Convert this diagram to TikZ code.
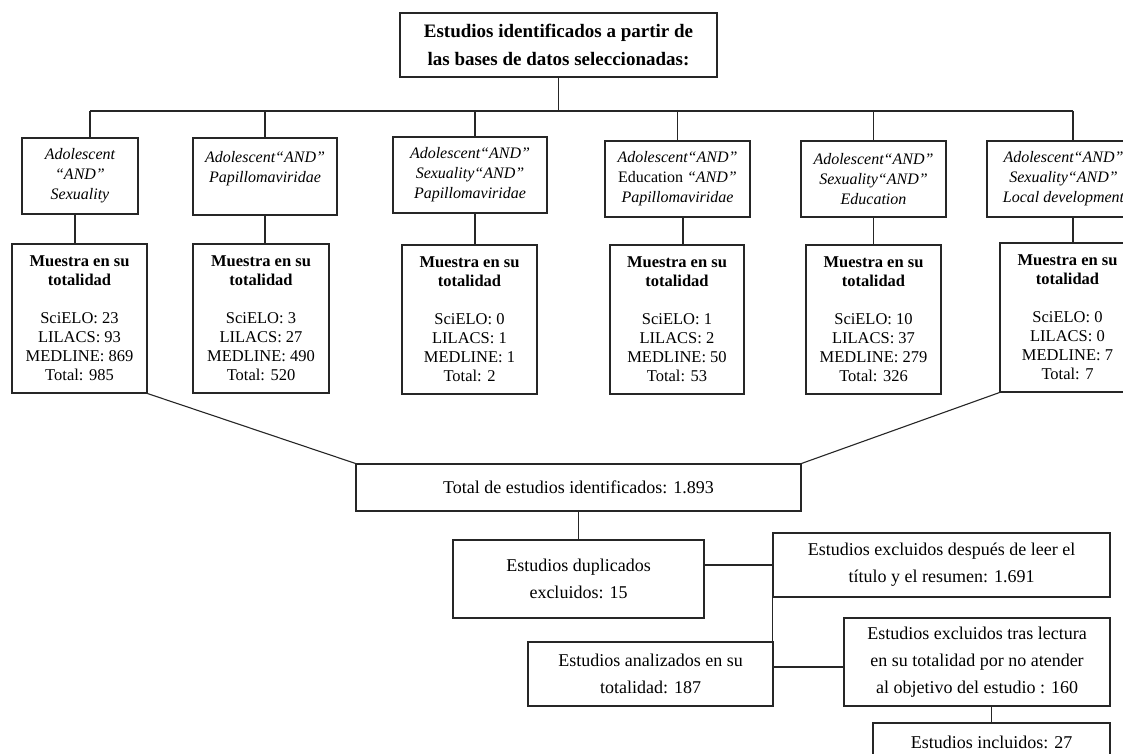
\documentclass[tikz,border=0pt]{standalone}
\usepackage{fontspec}
\setmainfont{Liberation Serif}
\begin{document}
\begin{tikzpicture}[x=1pt,y=-1pt,
  box/.style={draw=black!85, line width=1.1pt, inner sep=0pt, align=center, fill=white},
  ln/.style={draw=black!85, line width=1.1pt},
  topf/.style={font=\fontsize{19}{28}\selectfont\bfseries},
  qf/.style={font=\fontsize{16}{20}\selectfont\itshape},
  sf/.style={font=\fontsize{16.5}{19}\selectfont},
  btf/.style={font=\fontsize{18}{27}\selectfont}]
\fill[white] (0,0) rectangle (1123,754);
\useasboundingbox (0,0) rectangle (1123,754);

% top
\node[box, topf, minimum width=317pt, minimum height=64pt] (top) at (558.5,45)
  {Estudios identificados a partir de\\las bases de datos seleccionadas:};

% query boxes
\node[box, qf, minimum width=116pt, minimum height=76pt] (q1) at (80,176)
  {Adolescent\\“AND”\\Sexuality};
\node[box, qf, minimum width=144pt, minimum height=77pt] (q2) at (265,176.5)
  {Adolescent“AND”\\Papillomaviridae\\\mbox{}};
\node[box, qf, minimum width=154pt, minimum height=76pt] (q3) at (470,175)
  {Adolescent“AND”\\Sexuality“AND”\\Papillomaviridae};
\node[box, qf, minimum width=145pt, minimum height=76pt] (q4) at (677.5,179)
  {Adolescent“AND”\\\textup{Education} “AND”\\Papillomaviridae};
\node[box, qf, minimum width=145pt, minimum height=76pt] (q5) at (873.5,179)
  {Adolescent“AND”\\Sexuality“AND”\\Education};
\node[box, qf, minimum width=153pt, minimum height=76pt] (q6) at (1063.5,179)
  {Adolescent“AND”\\Sexuality“AND”\\Local development};

% sample boxes
\node[box, sf, minimum width=135pt, minimum height=149pt] (s1) at (79.5,318.5)
  {\textbf{Muestra en su}\\\textbf{totalidad}\\~\\SciELO: 23\\LILACS: 93\\MEDLINE: 869\\Total: 985};
\node[box, sf, minimum width=136pt, minimum height=149pt] (s2) at (261,318.5)
  {\textbf{Muestra en su}\\\textbf{totalidad}\\~\\SciELO: 3\\LILACS: 27\\MEDLINE: 490\\Total: 520};
\node[box, sf, minimum width=135pt, minimum height=149pt] (s3) at (469.5,319.5)
  {\textbf{Muestra en su}\\\textbf{totalidad}\\~\\SciELO: 0\\LILACS: 1\\MEDLINE: 1\\Total: 2};
\node[box, sf, minimum width=134pt, minimum height=149pt] (s4) at (677,319.5)
  {\textbf{Muestra en su}\\\textbf{totalidad}\\~\\SciELO: 1\\LILACS: 2\\MEDLINE: 50\\Total: 53};
\node[box, sf, minimum width=135pt, minimum height=149pt] (s5) at (873.5,319.5)
  {\textbf{Muestra en su}\\\textbf{totalidad}\\~\\SciELO: 10\\LILACS: 37\\MEDLINE: 279\\Total: 326};
\node[box, sf, minimum width=135pt, minimum height=149pt] (s6) at (1067.5,317.5)
  {\textbf{Muestra en su}\\\textbf{totalidad}\\~\\SciELO: 0\\LILACS: 0\\MEDLINE: 7\\Total: 7};

% lower flow
\node[box, btf, minimum width=445pt, minimum height=47pt] (total) at (578.5,487.5)
  {Total de estudios identificados: 1.893};
\node[box, btf, minimum width=251pt, minimum height=78pt] (dup) at (578.5,579)
  {Estudios duplicados\\excluidos: 15};
\node[box, btf, minimum width=337pt, minimum height=64pt] (tit) at (941.5,565)
  {Estudios excluidos después de leer el\\título y el resumen: 1.691};
\node[box, btf, minimum width=245pt, minimum height=64pt] (ana) at (650.5,674)
  {Estudios analizados en su\\totalidad: 187};
\node[box, btf, minimum width=266pt, minimum height=88pt] (tras) at (977,662)
  {Estudios excluidos tras lectura\\en su totalidad por no atender\\al objetivo del estudio : 160};
\node[box, btf, minimum width=237pt, minimum height=38pt] (inc) at (991.5,742)
  {Estudios incluidos: 27};

% connectors
\coordinate (busL) at (90,111);
\coordinate (busR) at (1073,111);
\draw[ln] (top.south) -- (top.south |- busL);
\draw[ln] (busL) -- (busR);
\draw[ln] (busL) -- (busL |- q1.north);
\draw[ln] (q2.north |- busL) -- (q2.north);
\draw[ln] ([xshift=5pt]q3.north |- busL) -- ([xshift=5pt]q3.north);
\draw[ln] (q4.north |- busL) -- (q4.north);
\draw[ln] (q5.north |- busL) -- (q5.north);
\draw[ln] (busR) -- (busR |- q6.north);

\draw[ln] ([xshift=-5pt]q1.south) -- ([xshift=-5pt]q1.south |- s1.north);
\draw[ln] (q2.south) -- (q2.south |- s2.north);
\draw[ln] ([xshift=5pt]q3.south) -- ([xshift=5pt]q3.south |- s3.north);
\draw[ln] ([xshift=5.5pt]q4.south) -- ([xshift=5.5pt]q4.south |- s4.north);
\draw[ln] (q5.south) -- (q5.south |- s5.north);
\draw[ln] ([xshift=9.5pt]q6.south) -- ([xshift=9.5pt]q6.south |- s6.north);

\draw[ln] (s1.south east) -- (total.north west);
\draw[ln] (s6.south west) -- (total.north east);
\draw[ln] (total.south) -- (dup.north);
\draw[ln] (tit.west -| dup.east) -- (tit.west);
\draw[ln] (tit.south west) -- (tit.south west |- ana.north);
\draw[ln] ([yshift=7pt]ana.east) -- ([yshift=7pt]ana.east -| tras.west);
\draw[ln] (inc.north |- tras.south) -- (inc.north);
\end{tikzpicture}
\end{document}
